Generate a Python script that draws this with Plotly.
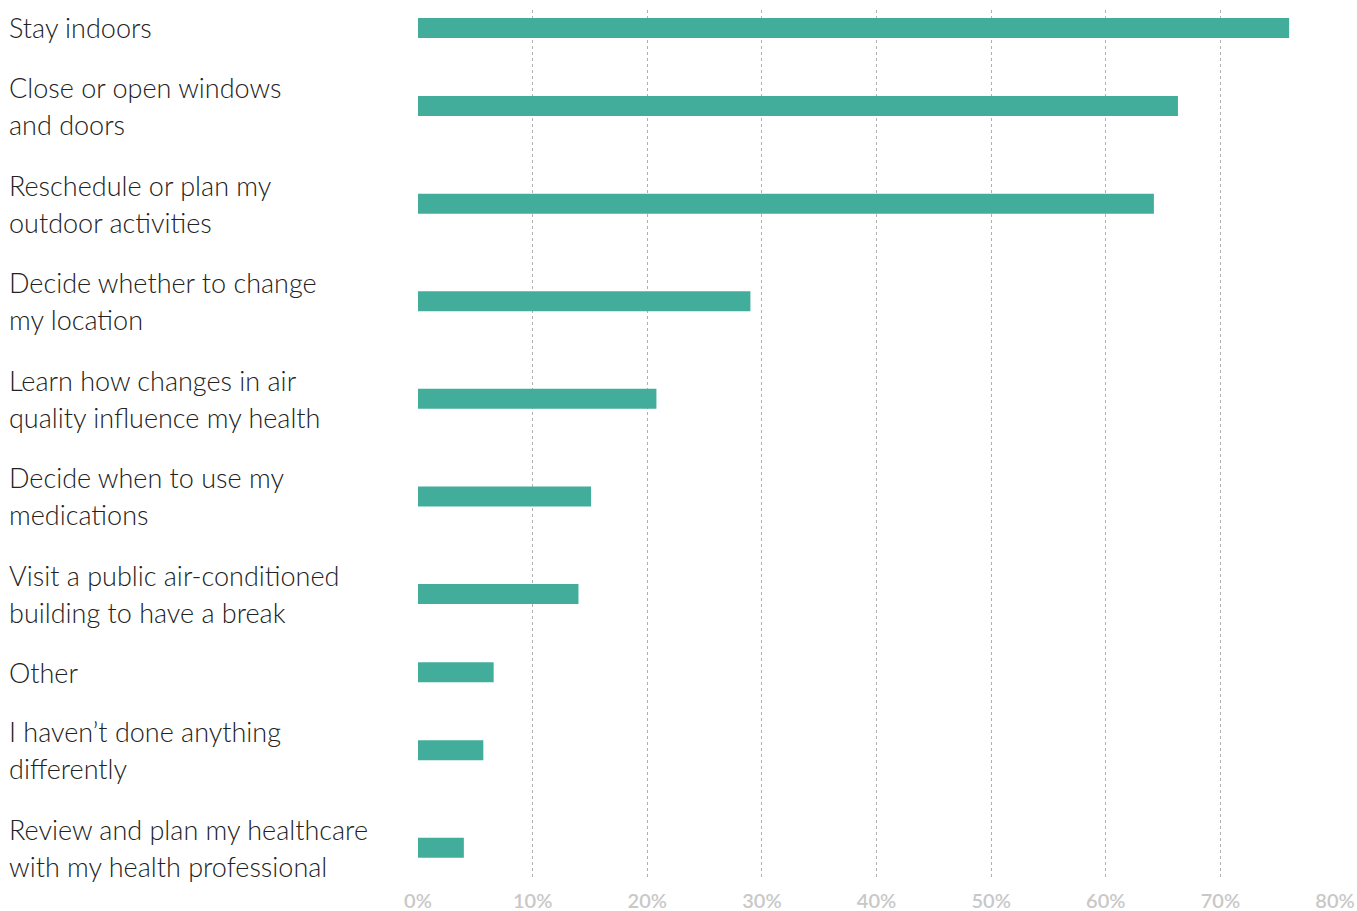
import plotly.graph_objects as go

categories = [
    "Stay indoors",
    "Close or open windows<br>and doors",
    "Reschedule or plan my<br>outdoor activities",
    "Decide whether to change<br>my location",
    "Learn how changes in air<br>quality influence my health",
    "Decide when to use my<br>medications",
    "Visit a public air-conditioned<br>building to have a break",
    "Other",
    "I haven\u2019t done anything<br>differently",
    "Review and plan my healthcare<br>with my health professional",
]
values = [76.0, 66.3, 64.2, 29.0, 20.8, 15.1, 14.0, 6.6, 5.7, 4.0]
tick_vals = [0, 10, 20, 30, 40, 50, 60, 70, 80]
tick_text = [f"{v}%" for v in tick_vals]

# band layout: one-line labels get a shorter band than two-line labels
positions = []
cursor = 0.0
for c in categories:
    n = len(c.split("<br>"))
    band = 3 + 2 * (n - 1)
    positions.append(cursor + band / 2)
    cursor += band

W, H = 1357, 911
ml, mr, mt, mb = 418, 22, 10, 33
plot_h = H - mt - mb
px_per_u = 19.52
y_top = 0.579
y_bot = y_top + plot_h / px_per_u

fig = go.Figure(go.Bar(
    x=values, y=positions, orientation="h",
    width=1.025, marker=dict(color="#43ad9c", line=dict(width=0)),
    hoverinfo="x",
))

label_x = (7 - ml) / (W - ml - mr)
line_gap = 37
for c, p in zip(categories, positions):
    lines = c.split("<br>")
    n = len(lines)
    for i, ln in enumerate(lines):
        shift = ((n - 1) / 2 - i) * line_gap
        fig.add_annotation(
            x=label_x, xref="paper", y=p, yref="y",
            text=ln, showarrow=False, xanchor="left", yanchor="middle",
            yshift=shift,
            font=dict(family="Lato", size=27, color="#222222", weight=300),
        )

fig.update_layout(
    width=W, height=H,
    margin=dict(l=ml, r=mr, t=mt, b=mb, pad=0, autoexpand=False),
    paper_bgcolor="white", plot_bgcolor="white",
    showlegend=False,
    xaxis=dict(
        range=[0, 80], tickvals=tick_vals, ticktext=tick_text,
        showgrid=True, gridcolor="#b0b0b0", griddash="dot", gridwidth=1,
        zeroline=False, showline=False, automargin=False,
        ticks="outside", ticklen=5, tickcolor="rgba(0,0,0,0)",
        tickfont=dict(family="Lato", size=20, color="#c8c8c8", weight=600),
        fixedrange=True,
    ),
    yaxis=dict(
        range=[y_bot, y_top], showticklabels=False, showgrid=False,
        zeroline=False, showline=False, fixedrange=True, automargin=False,
    ),
)

fig.write_html("out.html")
